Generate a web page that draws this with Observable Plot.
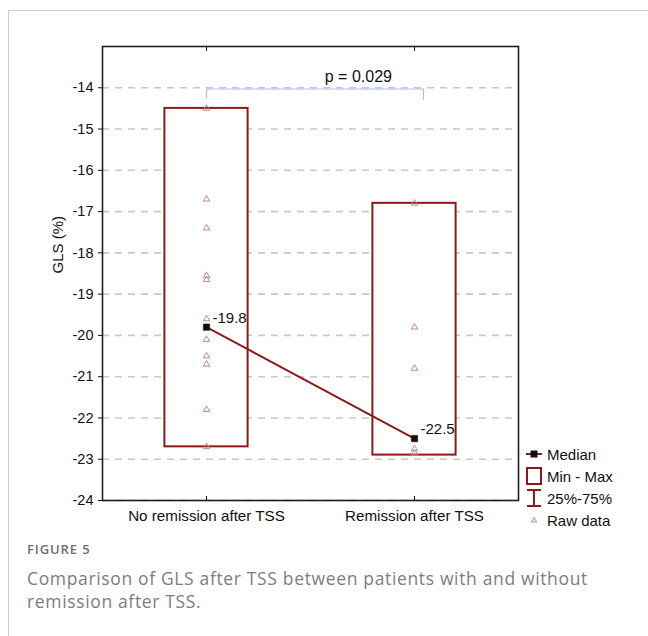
<!DOCTYPE html>
<html>
<head>
<meta charset="utf-8">
<script src="https://cdn.jsdelivr.net/npm/d3@7"></script>
<script src="https://cdn.jsdelivr.net/npm/@observablehq/plot@0.6"></script>
<style>
  html, body { margin: 0; padding: 0; background: #fff; }
  #page { position: relative; width: 648px; height: 636px; overflow: hidden; }
  #border { position: absolute; left: 8px; top: 10px; right: -2px; bottom: -2px;
            border-left: 1px solid #cfcfcf; border-top: 1px solid #cfcfcf; }
  #chart { position: absolute; left: 0; top: 0; }
  #legend { position: absolute; left: 524px; top: 443px; font-family: "Liberation Sans", Arial, sans-serif;
            font-size: 15px; color: #111; }
  #legend .item { display: flex; align-items: center; height: 22px; }
  #legend svg { width: 20px; height: 22px; margin-right: 3px; flex: none; }
  #caption { position: absolute; left: 27px; top: 540px; width: 600px; font-family: "Open Sans", sans-serif; }
  #caption .fig { font-size: 13px; color: #6e6e6e; font-weight: 600; letter-spacing: 0.9px; }
  #caption .txt { font-size: 17.5px; line-height: 23px; color: #7d7d7d; margin-top: 9px; letter-spacing: 0.65px; }
</style>
</head>
<body>
<div id="page">
  <div id="border"></div>
  <div id="chart"></div>
  <div id="legend"></div>
  <div id="caption">
    <div class="fig">FIGURE 5</div>
    <div class="txt">Comparison of GLS after TSS between patients with and without remission after TSS.</div>
  </div>
</div>
<script>
// Groups compared
const groups = ["No remission after TSS", "Remission after TSS"];

// GLS (%) per patient, by group
const rawNoRemission = [-14.5, -16.7, -17.4, -18.55, -18.65, -19.6, -20.1, -20.5, -20.7, -21.8, -22.7];
const rawRemission = [-16.8, -19.8, -20.8, -22.75, -22.85];

// Summary per group
const medians = [-19.8, -22.5];
const minValues = [-22.7, -22.9];
const maxValues = [-14.5, -16.8];

// y axis ticks
const yTicks = [-24, -23, -22, -21, -20, -19, -18, -17, -16, -15, -14];
const yLabel = "GLS (%)";

// Significance bracket between the groups
const pLabel = "p = 0.029";
const bracketLevel = -14.03;
const bracketLegEnds = [-14.25, -14.28];

const boxHalfWidth = 0.2;
const darkRed = "#8c1a1a";
const rawColor = "#c98585";

const summary = groups.map((g, i) => ({
  i, group: g, median: medians[i], min: minValues[i], max: maxValues[i]
}));
const raw = [
  ...rawNoRemission.map(v => ({i: 0, v})),
  ...rawRemission.map(v => ({i: 1, v}))
];
const bracketRight = 1.043;
const bracket = [
  {x: 0, y: bracketLegEnds[0]},
  {x: 0, y: bracketLevel},
  {x: bracketRight, y: bracketLevel},
  {x: bracketRight, y: bracketLegEnds[1]}
];

const noLabel = () => "";

const chart = Plot.plot({
  width: 648,
  height: 530,
  marginLeft: 102,
  marginRight: 130,
  marginTop: 46,
  marginBottom: 30,
  style: {fontFamily: "'Liberation Sans', Arial, sans-serif", fontSize: "15px", color: "#111"},
  x: {domain: [-0.5, 1.5], axis: null},
  y: {domain: [-24, -13], axis: null},
  marks: [
    Plot.gridY(yTicks, {stroke: "#c8c8c8", strokeOpacity: 1, strokeWidth: 1.6, strokeDasharray: "7,6"}),
    Plot.axisY(yTicks, {anchor: "left", tickSize: 4, tickPadding: 5, tickFormat: d => String(d),
      label: null, fontSize: 14.5}),
    Plot.text([yLabel], {frameAnchor: "left", dx: -44, rotate: -90, text: d => d, fontSize: 15, fill: "#111"}),
    Plot.axisX([0, 1], {anchor: "bottom", tickSize: 0, tickPadding: 10, tickFormat: i => groups[i], label: null, fontSize: 15.2}),
    Plot.axisX([0, 1], {anchor: "bottom", tickSize: -4, tickFormat: noLabel, label: null}),
    Plot.axisX([0, 1], {anchor: "top", tickSize: -4, tickFormat: noLabel, label: null}),
    Plot.line(bracket, {x: "x", y: "y", stroke: "#a9c0e8", strokeWidth: 1.2}),
    Plot.text([pLabel], {x: [0.73], y: [-13.74], text: d => d, fontSize: 16, fill: "#111"}),
    Plot.rect(summary, {x1: d => d.i - boxHalfWidth, x2: d => d.i + boxHalfWidth, y1: "min", y2: "max",
      fill: "white", stroke: darkRed, strokeWidth: 2}),
    Plot.dot(raw, {x: "i", y: "v", symbol: "triangle", r: 2.4, stroke: rawColor, strokeWidth: 1, fill: "none"}),
    Plot.line(summary, {x: "i", y: "median", stroke: darkRed, strokeWidth: 2}),
    Plot.dot(summary, {x: "i", y: "median", symbol: "square", r: 3.6, fill: "#111", stroke: "#111", strokeWidth: 0.5}),
    Plot.text(summary, {x: "i", y: "median", text: d => String(d.median), textAnchor: "start",
      dx: 6, dy: -9, fontSize: 15, fill: "#111"}),
    Plot.frame({stroke: "#1e1e1e", strokeWidth: 1.6})
  ]
});
document.getElementById("chart").appendChild(chart);

// Legend
const legendItems = [
  {label: "Median", icon: `<line x1="2" y1="11" x2="18" y2="11" stroke="${darkRed}" stroke-width="2"/><rect x="6.5" y="7.5" width="7" height="7" fill="#111"/>`},
  {label: "Min - Max", icon: `<rect x="3" y="3" width="14" height="16" fill="white" stroke="${darkRed}" stroke-width="2"/>`},
  {label: "25%-75%", icon: `<line x1="10" y1="3" x2="10" y2="19" stroke="${darkRed}" stroke-width="2"/><line x1="3" y1="3" x2="17" y2="3" stroke="${darkRed}" stroke-width="2"/><line x1="3" y1="19" x2="17" y2="19" stroke="${darkRed}" stroke-width="2"/>`},
  {label: "Raw data", icon: `<path d="M10,8.5 L12.6,13 L7.4,13 Z" fill="none" stroke="${rawColor}" stroke-width="1"/>`}
];
const legend = d3.select("#legend");
for (const item of legendItems) {
  const row = legend.append("div").attr("class", "item");
  row.append("svg").attr("viewBox", "0 0 20 22").html(item.icon);
  row.append("span").text(item.label);
}
</script>
</body>
</html>
